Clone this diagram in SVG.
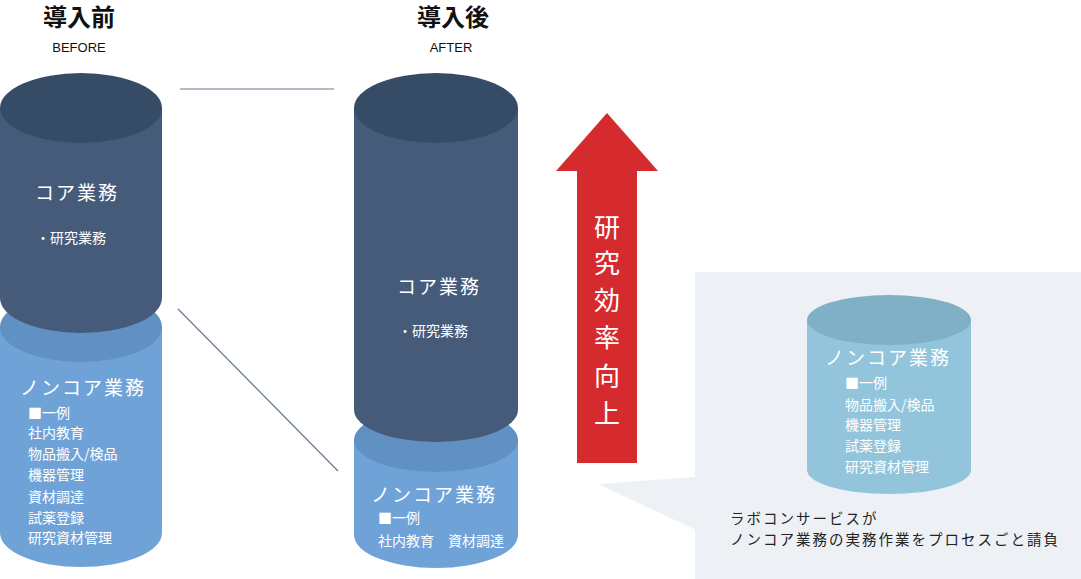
<svg xmlns="http://www.w3.org/2000/svg" width="1081" height="579" viewBox="0 0 1081 579">
<style>
.jp{font-family:"Noto Sans CJK JP","Noto Sans",sans-serif;fill:#fff}
.ttl{font-family:"Noto Sans CJK JP",sans-serif;font-weight:bold;font-size:24px;fill:#111;text-anchor:middle}
.sub{font-family:"Liberation Sans",Arial,sans-serif;font-size:13px;fill:#111;text-anchor:middle}
.h{font-size:19px;letter-spacing:2px}
.i{font-size:14px}
.darkTop{fill:#364c66}
.darkBody{fill:#455b79}
.lightTop{fill:#6190c3}
.lightBody{fill:#6fa3d8}
.conn{stroke:#65798f;stroke-width:1.2;fill:none}
</style>
<rect width="1081" height="579" fill="#fff"/>
<g id="title-before">
<text class="ttl" x="79" y="26">導入前</text>
<text class="sub" x="79" y="52">BEFORE</text>
</g>
<g id="title-after">
<text class="ttl" x="453" y="26">導入後</text>
<text class="sub" x="451" y="52">AFTER</text>
</g>
<g id="connectors">
<line class="conn" x1="180" y1="89" x2="334" y2="89"/>
<line class="conn" x1="178" y1="309" x2="338" y2="471"/>
</g>
<g id="before-noncore">
<path class="lightBody" d="M0,327 L0,533 A81,34 0 0 0 162,533 L162,327 Z"/>
<ellipse class="lightTop" cx="81" cy="327" rx="81" ry="35"/>
</g>
<g id="before-core">
<path class="darkBody" d="M0,108 L0,298 A81,35 0 0 0 162,298 L162,108 Z"/>
<ellipse class="darkTop" cx="81" cy="108" rx="81" ry="35"/>
<text class="jp h" x="35" y="200">コア業務</text>
<text class="jp i" x="36" y="243">・研究業務</text>
</g>
<g id="before-noncore-text">
<text class="jp h" x="20" y="395">ノンコア業務</text>
<text class="jp i" x="28" y="418">■一例</text>
<text class="jp i" x="28" y="438">社内教育</text>
<text class="jp i" x="28" y="459">物品搬入/検品</text>
<text class="jp i" x="28" y="480">機器管理</text>
<text class="jp i" x="28" y="502">資材調達</text>
<text class="jp i" x="28" y="523">試薬登録</text>
<text class="jp i" x="28" y="543">研究資材管理</text>
</g>
<g id="after-noncore">
<path class="lightBody" d="M354,440 L354,535 A82,33 0 0 0 518,535 L518,440 Z"/>
<ellipse class="lightTop" cx="436" cy="440" rx="82" ry="32"/>
</g>
<g id="after-core">
<path class="darkBody" d="M354,108 L354,410 A82,32 0 0 0 518,410 L518,108 Z"/>
<ellipse class="darkTop" cx="436" cy="108" rx="82" ry="35"/>
<text class="jp h" x="397" y="294">コア業務</text>
<text class="jp i" x="398" y="336">・研究業務</text>
</g>
<g id="after-noncore-text">
<text class="jp h" x="371" y="502">ノンコア業務</text>
<text class="jp i" x="378" y="523">■一例</text>
<text class="jp i" x="378" y="546">社内教育　資材調達</text>
</g>
<g id="arrow">
<polygon points="607,113 658,171 637,171 637,463 577,463 577,171 556,171" fill="#d52b2e"/>
<g class="jp" style="font-size:26px" text-anchor="middle">
<text x="607" y="237">研</text>
<text x="607" y="273">究</text>
<text x="607" y="310">効</text>
<text x="607" y="347">率</text>
<text x="607" y="386">向</text>
<text x="607" y="423">上</text>
</g>
</g>
<g id="callout">
<rect x="695" y="272" width="386" height="307" fill="#edf1f6"/>
<polygon points="598,484 696,477 696,530" fill="#edf1f6"/>
<text x="730" y="524" style="font-family:'Noto Sans CJK JP',sans-serif;font-size:14.5px;letter-spacing:2px;fill:#222">ラボコンサービスが</text>
<text x="730" y="545" style="font-family:'Noto Sans CJK JP',sans-serif;font-size:14.5px;letter-spacing:2px;fill:#222">ノンコア業務の実務作業をプロセスごと請負</text>
</g>
<g id="outsourced-noncore">
<path d="M807,320 L807,470 A82,24 0 0 0 971,470 L971,320 Z" fill="#92c5db"/>
<ellipse cx="889" cy="320" rx="82" ry="25" fill="#80b0c5"/>
<text class="jp h" x="825" y="365">ノンコア業務</text>
<text class="jp i" x="845" y="388">■一例</text>
<text class="jp i" x="845" y="410">物品搬入/検品</text>
<text class="jp i" x="845" y="430">機器管理</text>
<text class="jp i" x="845" y="451">試薬登録</text>
<text class="jp i" x="845" y="472">研究資材管理</text>
</g>
</svg>
